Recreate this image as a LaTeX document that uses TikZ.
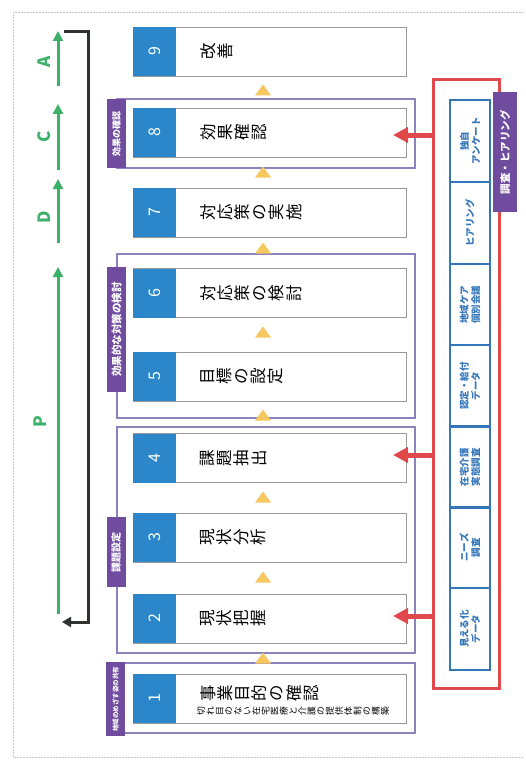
\documentclass[tikz,border=0pt]{standalone}
\usepackage{fontspec}
\setmainfont{Noto Sans CJK JP}
\usetikzlibrary{arrows.meta}
\definecolor{stepblue}{RGB}{43,135,201}
\definecolor{grpline}{RGB}{140,130,190}
\definecolor{tabpurple}{RGB}{112,76,158}
\definecolor{redline}{RGB}{224,72,76}
\definecolor{srcblue}{RGB}{52,118,186}
\definecolor{triyellow}{RGB}{247,200,96}
\definecolor{pdcagreen}{RGB}{61,176,106}
\definecolor{loopdark}{RGB}{47,51,47}
\definecolor{framegray}{RGB}{200,200,200}
\begin{document}
\begin{tikzpicture}[x=1pt,y=-1pt,
  stepbox/.style={draw=black!40, line width=0.8pt, fill=white, minimum width=273pt, minimum height=49pt, inner sep=0pt},
  numbox/.style={fill=stepblue, minimum width=43pt, minimum height=49pt, inner sep=0pt},
  numtxt/.style={rotate=90, text=white, font=\fontsize{16}{16}\selectfont, inner sep=0pt},
  steptxt/.style={rotate=90, align=center, inner sep=0pt, font=\fontsize{16.5}{17.2}\selectfont, anchor=north},
  subtxt/.style={rotate=90, align=center, inner sep=0pt, font=\fontsize{8.8}{9.2}\selectfont, anchor=north},
  grpbox/.style={draw=grpline, line width=2.5pt, fill=white, minimum width=298pt, inner sep=0pt},
  grptab/.style={rotate=90, fill=tabpurple, text=white, minimum height=19pt, inner sep=0pt, font=\bfseries\fontsize{9}{9}\selectfont},
  srcbox/.style={rotate=90, draw=srcblue, line width=1.3pt, minimum width=82pt, minimum height=40pt, align=center, text=srcblue, inner sep=0pt, font=\bfseries\fontsize{9.5}{11.5}\selectfont},
  redtab/.style={rotate=90, fill=tabpurple, text=white, minimum width=120pt, minimum height=24pt, inner sep=0pt, font=\bfseries\fontsize{10.5}{10.5}\selectfont},
  redarrow/.style={draw=redline, line width=5pt, -{Triangle[width=15pt,length=15pt]}},
  greenarrow/.style={draw=pdcagreen, line width=3pt, -{Triangle[width=10pt,length=10pt]}},
  loopline/.style={draw=loopdark, line width=3pt, -{Triangle[width=10pt,length=9pt]}},
  pdcatxt/.style={rotate=90, text=pdcagreen, inner sep=0pt, font=\bfseries\fontsize{17}{17}\selectfont},
  tri/.style={fill=triyellow}
]
\useasboundingbox (0,0) rectangle (525,765);
\fill[white] (0,0) rectangle (525,765);
\draw[framegray, line width=0.8pt, dash pattern=on 2pt off 1pt] (524,12) -- (13,12) -- (13,757) -- (524,757);

% group boxes
\node[grpbox, minimum height=69pt] (g8) at (266,133.5) {};
\node[grpbox, minimum height=164pt] (g56) at (266,336) {};
\node[grpbox, minimum height=226pt] (g234) at (266,540) {};
\node[grpbox, minimum height=70pt] (g1) at (266,698) {};

% step boxes
\foreach \n/\yc in {9/51.5,8/132.5,7/212.5,6/293,5/376.5,4/458,3/537.5,2/618.5,1/698.5}{
  \node[stepbox] (s\n) at (269.5,\yc) {};
  \node[numbox] (n\n) at (154.5,\yc) {};
  \node[numtxt] (d\n) at (n\n) {\n};
}

% step texts (vertical writing)
\node[steptxt] (t9) at (200,51.5) {改\\善};
\node[steptxt] (t8) at (200,132.5) {効\\果\\確\\認};
\node[steptxt] (t7) at (200,212.5) {対\\応\\策\\の\\実\\施};
\node[steptxt] (t6) at (200,293) {対\\応\\策\\の\\検\\討};
\node[steptxt] (t5) at (200,376.5) {目\\標\\の\\設\\定};
\node[steptxt] (t4) at (200,458) {課\\題\\抽\\出};
\node[steptxt] (t3) at (200,537.5) {現\\状\\分\\析};
\node[steptxt] (t2) at (200,618.5) {現\\状\\把\\握};
\node[steptxt] (t1) at (200,693.5) {事\\業\\目\\的\\の\\確\\認};
\node[subtxt] (t1s) at (197,711.5) {切\\れ\\目\\の\\な\\い\\在\\宅\\医\\療\\と\\介\\護\\の\\提\\供\\体\\制\\の\\構\\築};

% group tabs
\node[grptab, minimum width=69pt] (tab8) at (116.5,133.5) {効果の確認};
\node[grptab, minimum width=125pt, font=\bfseries\fontsize{10.5}{10.5}\selectfont] (tab56) at (116.5,329.5) {効果的な対策の検討};
\node[grptab, minimum width=70pt, font=\bfseries\fontsize{10}{10}\selectfont] (tab234) at (116,552) {課題設定};
\node[grptab, minimum width=74pt, font=\bfseries\fontsize{6.5}{6.5}\selectfont] (tab1) at (115.5,699) {地域のめざす姿の共有};

% yellow triangles
\foreach \yc in {90,172,248,332,415,497,577,658}{
  \fill[tri] (255,\yc+5.5) -- (271,\yc+5.5) -- (263,\yc-5.5) -- cycle;
}

% red bracket and sources
\node[draw=redline, line width=3pt, minimum width=66pt, minimum height=608pt, inner sep=0pt] (red) at (466,384) {};
\node[srcbox] (b1) at (470,141) {独自\\アンケート};
\node[srcbox] (b2) at (470,223) {ヒアリング};
\node[srcbox] (b3) at (470,304.5) {地域ケア\\個別会議};
\node[srcbox] (b4) at (470,386) {認定・給付\\データ};
\node[srcbox] (b5) at (470,467) {在宅介護\\実態調査};
\node[srcbox] (b6) at (470,547.5) {ニーズ\\調査};
\node[srcbox] (b7) at (470,629) {見える化\\データ};
\node[redtab] (rt) at (505,152) {調査・ヒアリング};

% red arrows
\coordinate (r8) at (433,135);
\coordinate (r4) at (433,455);
\coordinate (r2) at (433,616);
\coordinate (e8) at (393,135);
\coordinate (e4) at (393,455);
\coordinate (e2) at (393,616);
\draw[redarrow] (r8) -- (e8);
\draw[redarrow] (r4) -- (e4);
\draw[redarrow] (r2) -- (e2);

% PDCA arrows
\coordinate (pA0) at (58,86);  \coordinate (pA1) at (58,31);
\coordinate (pC0) at (58,170); \coordinate (pC1) at (58,104);
\coordinate (pD0) at (58,243); \coordinate (pD1) at (58,179);
\coordinate (pP0) at (58,614); \coordinate (pP1) at (58,267);
\draw[greenarrow] (pA0) -- (pA1);
\draw[greenarrow] (pC0) -- (pC1);
\draw[greenarrow] (pD0) -- (pD1);
\draw[greenarrow] (pP0) -- (pP1);
\node[pdcatxt] (lA) at (44,62) {A};
\node[pdcatxt] (lC) at (44,137) {C};
\node[pdcatxt] (lD) at (44,217) {D};
\node[pdcatxt] (lP) at (40,422) {P};

% feedback loop
\coordinate (k0) at (64,32);
\coordinate (k1) at (88,32);
\coordinate (k2) at (88,622);
\coordinate (k3) at (62,622);
\draw[loopline] (k0) -- (k1) -- (k2) -- (k3);
\end{tikzpicture}
\end{document}
